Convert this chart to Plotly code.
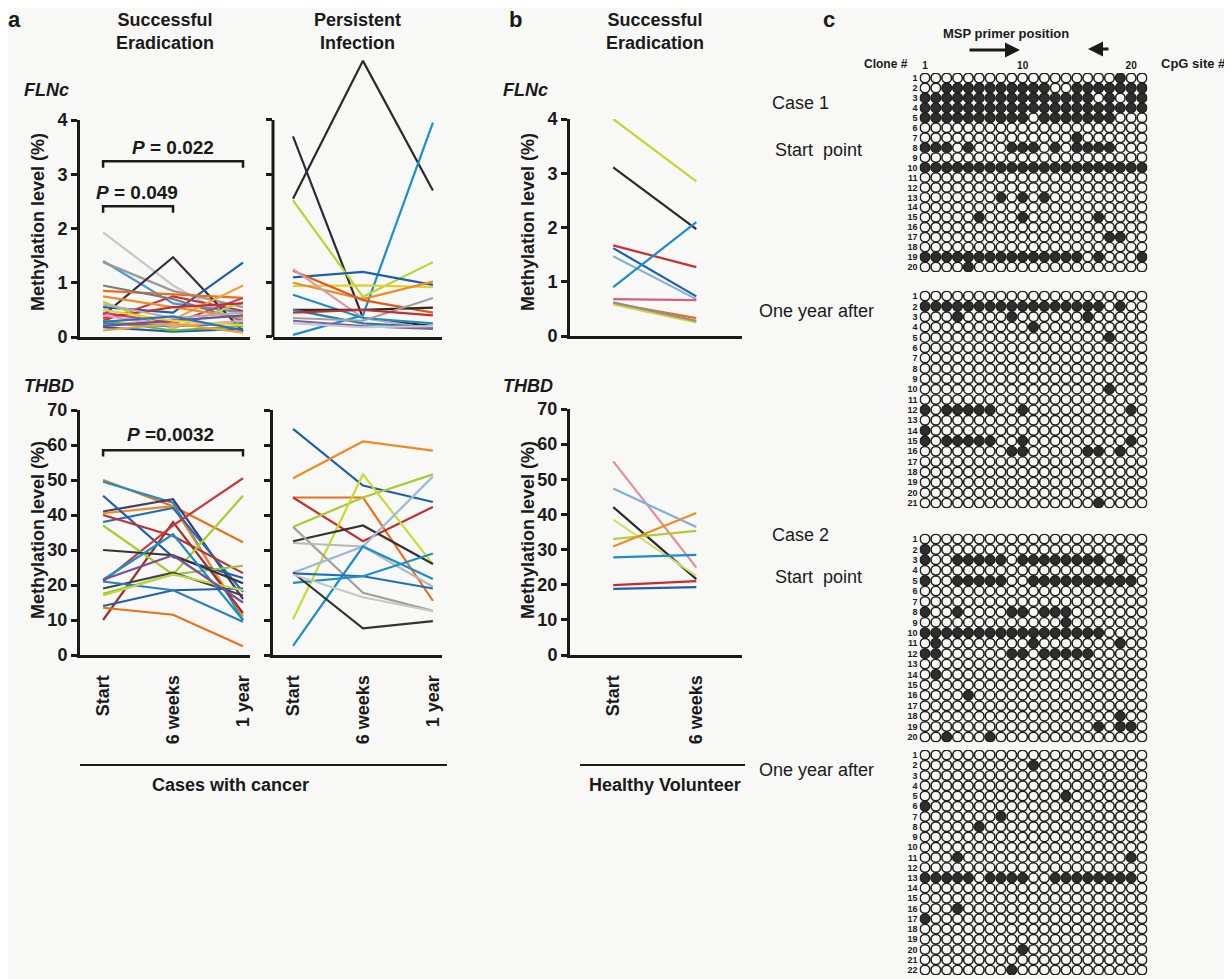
import plotly.graph_objects as go

# The page places the figure 8 px from the top-left corner of the window,
# so the figure is sized to fill the rest and all positions are given in window pixels.
OFF = 8
FW, FH = 1224, 971
FONT = "Liberation Sans, Arial, Helvetica, sans-serif"
BG = "#f8f8f6"
INK = "#1a1a1a"

# ---------------- data ----------------
time_a = ["Start", "6 weeks", "1 year"]
time_b = ["Start", "6 weeks"]

# a: FLNc, successful eradication
flnc_se = [
    [1.93, 0.95, 0.25], [1.40, 0.62, 0.45], [1.38, 0.85, 0.55], [0.40, 1.47, 0.10],
    [0.55, 0.45, 1.37], [0.85, 0.78, 0.72], [0.30, 0.75, 0.48], [0.95, 0.70, 0.30],
    [0.22, 0.32, 0.95], [0.45, 0.25, 0.72], [0.65, 0.15, 0.65], [0.75, 0.55, 0.35],
    [0.35, 0.55, 0.62], [0.25, 0.20, 0.25], [0.18, 0.10, 0.15], [0.30, 0.12, 0.20],
    [0.40, 0.20, 0.30], [0.20, 0.30, 0.40], [0.50, 0.30, 0.22], [0.60, 0.35, 0.45],
    [0.28, 0.38, 0.12], [0.12, 0.25, 0.08],
]
flnc_se_colors = [
    "#c8c8c8", "#4a9ad0", "#9a9a9a", "#3a3040", "#1f5fa8", "#e8701a", "#d03030", "#7a7a7a",
    "#f4a040", "#c04080", "#b8d432", "#f08a24", "#c03030", "#1a8fc8", "#1f5fa8", "#70b040",
    "#e8a0b0", "#7050a0", "#e8d62a", "#b0b0b0", "#3070c0", "#f0a030",
]

# a: FLNc, persistent infection
flnc_pi = [
    [2.55, 5.09, 2.70], [3.70, 0.35, 0.20], [0.04, 0.40, 3.95], [2.52, 0.74, 1.38],
    [1.10, 1.20, 0.96], [0.94, 0.95, 0.92], [1.00, 0.70, 1.02], [1.22, 0.68, 0.45],
    [1.25, 0.35, 0.15], [0.78, 0.35, 0.25], [0.50, 0.50, 0.54], [0.50, 0.25, 0.18],
    [0.35, 0.30, 0.72], [0.30, 0.20, 0.15], [0.25, 0.18, 0.20], [0.45, 0.50, 0.40],
]
flnc_pi_colors = [
    "#2a2a2a", "#2a2a3a", "#1a8fc8", "#b8d432", "#1f5fa8", "#e0d030", "#f08a24", "#e05a1a",
    "#d0a0b0", "#1a8fc8", "#2a2a2a", "#2080b0", "#a0a0a0", "#8060a0", "#c8c8c8", "#c03030",
]

# a: THBD, successful eradication
thbd_se = [
    [50.0, 42.5, 32.2], [49.5, 43.5, 10.0], [41.0, 44.5, 16.0], [40.5, 42.5, 11.0],
    [38.0, 42.0, 18.0], [45.5, 28.0, 22.0], [40.0, 34.0, 23.4], [10.0, 38.0, 12.0],
    [21.0, 37.0, 50.5], [37.0, 23.0, 45.5], [17.5, 23.0, 25.5], [30.0, 28.5, 20.5],
    [19.0, 23.5, 17.0], [21.5, 34.5, 10.0], [14.0, 18.5, 19.0], [21.0, 18.5, 9.5],
    [13.5, 11.5, 2.5], [17.0, 23.0, 18.5], [21.5, 28.5, 15.0],
]
thbd_se_colors = [
    "#e8701a", "#1a8fc8", "#4a3a6a", "#f08a24", "#1f6fb8", "#1f5fa8", "#c03030", "#a03030",
    "#c83a3a", "#a8cc30", "#98c040", "#333333", "#444444", "#1a8fc8", "#1f5fa8", "#2a7fc0",
    "#e8701a", "#c0d840", "#7a5090",
]

# a: THBD, persistent infection
thbd_pi = [
    [64.6, 48.4, 43.7], [50.5, 61.0, 58.4], [45.0, 45.0, 15.5], [45.0, 32.5, 42.3],
    [36.6, 45.0, 51.6], [10.2, 51.6, 25.9], [32.5, 37.0, 26.0], [36.6, 17.8, 12.6],
    [32.0, 31.0, 19.5], [23.5, 31.0, 51.0], [2.6, 31.0, 21.7], [23.3, 22.5, 19.0],
    [20.6, 22.5, 29.0], [23.5, 7.6, 9.7], [23.0, 16.5, 12.5],
]
thbd_pi_colors = [
    "#1f5fa8", "#f08a24", "#e8701a", "#c03030", "#a8cc30", "#c8dc30", "#333333", "#a0a0a0",
    "#b8b8b8", "#9ab8d8", "#1a8fc8", "#1f6fb8", "#1a8fc8", "#333333", "#c8c8c8",
]

# b: FLNc, healthy volunteers
flnc_hv = [
    [4.00, 2.85], [3.11, 1.97], [1.67, 1.27], [1.62, 0.73], [1.47, 0.68],
    [0.90, 2.10], [0.68, 0.66], [0.60, 0.33], [0.58, 0.25], [0.62, 0.28],
]
flnc_hv_colors = [
    "#c8d430", "#2a2a2a", "#c83030", "#1f5fa8", "#8ab0d8",
    "#1a8fc8", "#d06080", "#e8701a", "#d8d040", "#909090",
]

# b: THBD, healthy volunteers
thbd_hv = [
    [55.1, 24.9], [47.4, 36.4], [42.1, 21.6], [38.5, 22.5], [33.0, 35.3],
    [30.9, 40.4], [27.8, 28.5], [19.9, 21.0], [18.8, 19.3],
]
thbd_hv_colors = [
    "#e0909a", "#7fb0e0", "#2a2a2a", "#d0e070", "#b0cc30",
    "#f08a24", "#1a8fc8", "#cc2a2a", "#1f5fa8",
]

# c: bisulfite sequencing (1 = methylated CpG), 21 CpG sites per clone
case1_start = [
    "000000000000000000100",
    "001111111111001111111",
    "111111111111111101011",
    "111111111111111111111",
    "111111111101111111000",
    "000000000000000000000",
    "000000000000001000000",
    "111010001110101111000",
    "000000000000000000000",
    "111111111111111111111",
    "000000000000000000000",
    "000000000000000000000",
    "000000010101000000000",
    "000000000000000000000",
    "000001000100000010000",
    "000000000000000000000",
    "000000000000000001100",
    "000000000000000000000",
    "111111111111111010001",
    "000010000000000000000",
]
case1_year = [
    "000000000000000000000",
    "111111111111111110100",
    "000100001000000100000",
    "000000000010000000000",
    "000000000000000001000",
    "000000000000000000000",
    "000000000000000000000",
    "000000000000000000000",
    "000000000000000000000",
    "000000000000000001000",
    "000000000000000000000",
    "101111100100000000010",
    "000000000000000000000",
    "100000000000000000000",
    "101111100100000000010",
    "000000001100000110100",
    "000000000000000000000",
    "000000000000000000000",
    "000000000000000000000",
    "000000000000000000000",
    "000000000000000010000",
]
case2_start = [
    "000000000000000000000",
    "100000000000000000000",
    "100111110111111110100",
    "000000000000000000000",
    "100111110011111111110",
    "000000000000000000000",
    "000000000000000000000",
    "100100001101110000000",
    "000000000000010000000",
    "111111111111111110000",
    "010000000010000000100",
    "110000001101111100000",
    "000000000000000000000",
    "010000000000000000000",
    "000000000000000000000",
    "000010000000000000000",
    "000000000000000000000",
    "000000000000000000100",
    "000000000000000010110",
    "001000100000000000000",
]
case2_year = [
    "000000000000000000000",
    "000000000010000000000",
    "000000000000000000000",
    "000000000000000000000",
    "000000000000010000000",
    "100000000000000000000",
    "000000010000000000000",
    "000001000000000000000",
    "000000000000000000000",
    "000000000000000000000",
    "000100000000000000010",
    "000000000000000000000",
    "111110111100111111110",
    "000000000000000000000",
    "000000000000000000000",
    "000100000000000000000",
    "100000000000000000000",
    "000000000000000000000",
    "000000000000000000000",
    "000000000100000000000",
    "000000000000000000000",
    "000000001000000000000",
]
cpg_tick_vals = [1, 10, 20]

# ---------------- helpers ----------------
fig = go.Figure()


def fx(x):
    return (x - OFF) / FW


def fy(y):
    return 1 - (y - OFF) / FH


def xd(a, b):
    return [fx(a), fx(b)]


def yd(bottom, top):
    return [fy(bottom), fy(top)]


def add_lines(series, colors, times, n):
    for vals, c in zip(series, colors):
        fig.add_trace(go.Scatter(
            x=times, y=vals, mode="lines", line=dict(color=c, width=2.2),
            xaxis="x" + n, yaxis="y" + n, showlegend=False, hoverinfo="skip"))


def xaxis_line(dom, rng, cats, labels):
    return dict(
        domain=dom, range=rng, type="category", categoryorder="array", categoryarray=cats,
        showline=True, linewidth=3, linecolor=INK, showgrid=False, zeroline=False,
        ticks="", showticklabels=labels, tickangle=-90, ticklabelstandoff=10,
        tickfont=dict(family=FONT, size=18, color=INK, weight="bold"),
        automargin=False, fixedrange=True)


def yaxis_line(dom, rng, anchor, tickvals, labels, showline=True):
    return dict(
        domain=dom, range=rng, anchor=anchor, showline=showline, linewidth=3, linecolor=INK,
        showgrid=False, zeroline=False, ticks="outside", ticklen=6, tickwidth=2.5,
        tickcolor=INK, tickvals=tickvals, showticklabels=labels,
        tickfont=dict(family=FONT, size=18, color=INK, weight="bold"),
        automargin=False, fixedrange=True)


annotations = []
shapes = []


def ann(text, x, y, size=18, bold=True, xanchor="center", yanchor="middle", angle=0):
    annotations.append(dict(
        text=text, x=fx(x), y=fy(y), xref="paper", yref="paper",
        xanchor=xanchor, yanchor=yanchor, textangle=angle, showarrow=False,
        font=dict(family=FONT, size=size, color=INK, weight="bold" if bold else "normal")))


# ---------------- panel a / b line charts ----------------
add_lines(flnc_se, flnc_se_colors, time_a, "")
add_lines(flnc_pi, flnc_pi_colors, time_a, "2")
add_lines(thbd_se, thbd_se_colors, time_a, "3")
add_lines(thbd_pi, thbd_pi_colors, time_a, "4")
add_lines(flnc_hv, flnc_hv_colors, time_b, "5")
add_lines(thbd_hv, thbd_hv_colors, time_b, "6")

rng_se = [-0.33, 2.1]
rng_pi = [-0.286, 2.13]
rng_b = [-0.52, 1.55]
flnc_ticks = [0, 1, 2, 3, 4]
thbd_ticks = [0, 10, 20, 30, 40, 50, 60, 70]

layout_axes = dict(
    xaxis=xaxis_line(xd(80, 250), rng_se, time_a, False),
    yaxis=yaxis_line(yd(337, 120), [0, 4], "x", flnc_ticks, True),
    xaxis2=xaxis_line(xd(273, 442), rng_pi, time_a, False),
    yaxis2=yaxis_line(yd(337, 337 - 5.25 * 54.25), [0, 5.25], "x2", flnc_ticks, False, False),
    xaxis3=xaxis_line(xd(80, 250), rng_se, time_a, True),
    yaxis3=yaxis_line(yd(655, 410), [0, 70], "x3", thbd_ticks, True),
    xaxis4=xaxis_line(xd(273, 442), rng_pi, time_a, True),
    yaxis4=yaxis_line(yd(655, 410), [0, 70], "x4", thbd_ticks, False),
    xaxis5=xaxis_line(xd(570, 742), rng_b, time_b, False),
    yaxis5=yaxis_line(yd(336, 119), [0, 4], "x5", flnc_ticks, True),
    xaxis6=xaxis_line(xd(570, 742), rng_b, time_b, True),
    yaxis6=yaxis_line(yd(655, 409), [0, 70], "x6", thbd_ticks, True),
)
for i in range(1, 7):
    k = "xaxis" if i == 1 else "xaxis%d" % i
    layout_axes[k]["anchor"] = "y" if i == 1 else "y%d" % i

# y-axis line of persistent FLNc only reaches 4 (the 6-week peak rises above it)
shapes.append(dict(type="line", xref="x2 domain", yref="y2", x0=0, x1=0, y0=0, y1=4,
                   line=dict(color=INK, width=3)))


# significance brackets
def bracket(xr, yr, i0, i1, y, drop):
    shapes.append(dict(type="path", xref=xr, yref=yr,
                       path="M %d,%s L %d,%s L %d,%s L %d,%s" % (i0, y - drop, i0, y, i1, y, i1, y - drop),
                       line=dict(color=INK, width=2.5)))


bracket("x", "y", 0, 1, 2.41, 0.12)
bracket("x", "y", 0, 2, 3.24, 0.12)
bracket("x3", "y3", 0, 2, 58.5, 1.8)
annotations.append(dict(text="<i>P</i> = 0.049", x=0.48, y=2.66, xref="x", yref="y", showarrow=False,
                        font=dict(family=FONT, size=19, color=INK, weight="bold")))
annotations.append(dict(text="<i>P</i> = 0.022", x=1.0, y=3.5, xref="x", yref="y", showarrow=False,
                        font=dict(family=FONT, size=19, color=INK, weight="bold")))
annotations.append(dict(text="<i>P</i> =0.0032", x=0.96, y=63.0, xref="x3", yref="y3", showarrow=False,
                        font=dict(family=FONT, size=19, color=INK, weight="bold")))

# group underlines
shapes.append(dict(type="line", xref="paper", yref="paper", x0=fx(80), x1=fx(447),
                   y0=fy(765), y1=fy(765), line=dict(color=INK, width=2)))
shapes.append(dict(type="line", xref="paper", yref="paper", x0=fx(580), x1=fx(745),
                   y0=fy(765), y1=fy(765), line=dict(color=INK, width=2)))

# texts
ann("a", 15, 20, size=22)
ann("b", 515, 20, size=22)
ann("c", 829, 20, size=22)
ann("Successful<br>Eradication", 165, 31, size=18)
ann("Persistent<br>Infection", 357, 31, size=18)
ann("Successful<br>Eradication", 655, 31, size=18)
ann("<i>FLNc</i>", 22, 90, size=18, xanchor="left")
ann("<i>FLNc</i>", 501, 90, size=18, xanchor="left")
ann("<i>THBD</i>", 22, 386, size=18, xanchor="left")
ann("<i>THBD</i>", 501, 386, size=18, xanchor="left")
ann("Methylation level (%)", 38, 222, size=18, angle=-90)
ann("Methylation level (%)", 38, 530, size=18, angle=-90)
ann("Methylation level (%)", 528, 222, size=18, angle=-90)
ann("Methylation level (%)", 528, 530, size=18, angle=-90)
ann("Cases with cancer", 230, 785, size=18)
ann("Healthy Volunteer", 665, 785, size=18)

# ---------------- panel c grids ----------------
grids = [
    (case1_start, 78, 267),
    (case1_year, 296, 503),
    (case2_start, 539, 737),
    (case2_year, 755, 970),
]
c1, c21 = 925.0, 1142.0
step_x = (c21 - c1) / 20
for gi, (rows, r_top, r_bot) in enumerate(grids):
    n = str(7 + gi)
    nr = len(rows)
    step_y = (r_bot - r_top) / (nr - 1)
    xs, ys, fills = [], [], []
    for r, s in enumerate(rows):
        for cidx, ch in enumerate(s):
            xs.append(cidx + 1)
            ys.append(r + 1)
            fills.append("#2e2e2e" if ch == "1" else BG)
    fig.add_trace(go.Scatter(
        x=xs, y=ys, mode="markers", xaxis="x" + n, yaxis="y" + n, showlegend=False,
        hoverinfo="skip",
        marker=dict(symbol="circle", size=9.6, color=fills, line=dict(color="#202020", width=1.6))))
    layout_axes["xaxis" + n] = dict(
        domain=xd(c1 - step_x / 2, c21 + step_x / 2), range=[0.5, 21.5], anchor="y" + n,
        showline=False, showgrid=False, zeroline=False, ticks="",
        side="top", tickvals=cpg_tick_vals if gi == 0 else [],
        showticklabels=(gi == 0), ticklabelstandoff=1,
        tickfont=dict(family=FONT, size=10, color=INK, weight="bold"),
        automargin=False, fixedrange=True)
    layout_axes["yaxis" + n] = dict(
        domain=yd(r_bot + step_y / 2, r_top - step_y / 2), range=[nr + 0.5, 0.5], anchor="x" + n,
        showline=False, showgrid=False, zeroline=False, ticks="",
        tickvals=list(range(1, nr + 1)), showticklabels=True, ticklabelstandoff=1,
        tickfont=dict(family=FONT, size=9, color=INK, weight="bold"),
        automargin=False, fixedrange=True)

ann("MSP primer position", 1006, 33, size=13)
ann("Clone #", 862, 64, size=12, xanchor="left")
ann("CpG site #", 1228, 64, size=13, xanchor="right")
ann("Case 1", 770, 103, size=18, bold=False, xanchor="left")
ann("Start  point", 773, 150, size=18, bold=False, xanchor="left")
ann("One year after", 757, 311, size=18, bold=False, xanchor="left")
ann("Case 2", 770, 535, size=18, bold=False, xanchor="left")
ann("Start  point", 773, 577, size=18, bold=False, xanchor="left")
ann("One year after", 757, 770, size=18, bold=False, xanchor="left")

# primer arrows (offsets in pixels)
annotations.append(dict(x=fx(1020), y=fy(50), ax=-52, ay=0, xref="paper", yref="paper",
                        axref="pixel", ayref="pixel", text="", showarrow=True, arrowhead=2,
                        arrowsize=1, arrowwidth=3, arrowcolor=INK))
annotations.append(dict(x=fx(1088), y=fy(49), ax=22, ay=0, xref="paper", yref="paper",
                        axref="pixel", ayref="pixel", text="", showarrow=True, arrowhead=2,
                        arrowsize=1, arrowwidth=3, arrowcolor=INK))

fig.update_layout(
    width=FW, height=FH, margin=dict(l=0, r=0, t=0, b=0),
    paper_bgcolor=BG, plot_bgcolor="rgba(0,0,0,0)",
    font=dict(family=FONT, color=INK),
    showlegend=False, annotations=annotations, shapes=shapes,
    **layout_axes)

fig.write_html("out.html")
